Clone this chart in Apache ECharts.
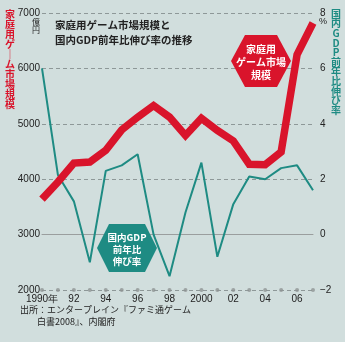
<!DOCTYPE html>
<html>
<head>
<meta charset="utf-8">
<script src="https://cdn.jsdelivr.net/npm/echarts@6/dist/echarts.min.js"></script>
<style>
html,body{margin:0;padding:0;background:#d1dedd;}
#c{width:345px;height:342px;}
</style>
</head>
<body>
<div id="c"></div>
<script>
// ---- data ----
const years = ['1990','1991','1992','1993','1994','1995','1996','1997','1998','1999','2000','2001','2002','2003','2004','2005','2006','2007'];
const xTickLabels = {'1990':'1990年','1992':'92','1994':'94','1996':'96','1998':'98','2000':'2000','2002':'02','2004':'04','2006':'06'};
const gameMarket = [3640,3950,4290,4310,4520,4890,5120,5330,5120,4790,5100,4880,4690,4270,4260,4490,6250,6820]; // 億円
const gdpGrowth = [6.0,2.15,1.2,-1.0,2.3,2.5,2.9,0.0,-1.5,0.8,2.6,-0.8,1.1,2.1,2.0,2.4,2.5,1.6]; // %
const leftTicks = [2000,3000,4000,5000,6000,7000];
const rightTicks = [-2,0,2,4,6,8];

const FONT = '"Noto Sans CJK JP", "Noto Sans", sans-serif';
const NUMFONT = '"Liberation Sans", Arial, sans-serif';
const RED = '#d9142b';
const TEAL = '#1e8b83';
const TXT = '#222';
const Y_MIN = leftTicks[0];

function hexPts(cx, cy, w, h, k){
  return [[cx-w,cy],[cx-w+k,cy-h],[cx+w-k,cy-h],[cx+w,cy],[cx+w-k,cy+h],[cx-w+k,cy+h]];
}
function vertTexts(chars, x, y0, step, color){
  return chars.map((ch, i) => ({type:'text', x: x, y: y0 + i*step, z: 10,
    style:{text: ch, font:'bold 10px ' + FONT, fill: color, align:'center', verticalAlign:'middle'}}));
}

const chart = echarts.init(document.getElementById('c'));
chart.setOption({
  backgroundColor: '#d1dedd',
  animation: false,
  textStyle: {fontFamily: FONT},
  grid: {left: 42, right: 32, top: 13, bottom: 52},
  xAxis: {
    type: 'category', data: years, boundaryGap: false,
    axisLine: {show: true, lineStyle: {color: '#9a9e9e', width: 1}},
    axisTick: {show: false},
    axisLabel: {interval: 0, margin: 4, color: TXT, fontSize: 10, fontFamily: NUMFONT,
      formatter: v => xTickLabels[v] || ''},
    splitLine: {show: false}
  },
  yAxis: [{
    type: 'value', min: Y_MIN, max: 7000, interval: 1000,
    axisLine: {show: false}, axisTick: {show: false},
    axisLabel: {margin: 2, color: TXT, fontSize: 10, fontFamily: NUMFONT,
      formatter: v => leftTicks.includes(v) ? String(v) : ''},
    splitLine: {show: true, lineStyle: {color: '#8e9898', type: [4,3], width: 1}}
  },{
    type: 'value', min: -2, max: 8, interval: 2,
    axisLine: {show: false}, axisTick: {show: false},
    axisLabel: {margin: 7, color: TXT, fontSize: 10, fontFamily: NUMFONT,
      formatter: v => rightTicks.includes(v) ? (v < 0 ? '−' + Math.abs(v) : String(v)) : ''},
    splitLine: {show: false}
  }],
  series: [{
    name: 'axisDots', type: 'scatter', yAxisIndex: 0, silent: true,
    data: years.map(y => [y, Y_MIN]), symbolSize: 4,
    itemStyle: {color: '#8f9494'}, z: 2
  },{
    name: '国内GDP前年比伸び率', type: 'line', yAxisIndex: 1, data: gdpGrowth,
    symbol: 'none', lineStyle: {color: TEAL, width: 2}, z: 3
  },{
    name: '家庭用ゲーム市場規模', type: 'line', yAxisIndex: 0, data: gameMarket,
    symbol: 'none', lineStyle: {color: RED, width: 7.5, join: 'miter'}, z: 4
  }],
  graphic: [
    // title
    {type:'text', left: 55, top: 20, z: 10, style:{text:'家庭用ゲーム市場規模と', font:'bold 10.5px ' + FONT, fill: TXT}},
    {type:'text', left: 55, top: 35, z: 10, style:{text:'国内GDP前年比伸び率の推移', font:'bold 10.5px ' + FONT, fill: TXT}},
    // units
    {type:'text', x: 36, y: 22, z: 10, style:{text:'億', font:'8px ' + FONT, fill: TXT, align:'center', verticalAlign:'middle'}},
    {type:'text', x: 36, y: 30, z: 10, style:{text:'円', font:'8px ' + FONT, fill: TXT, align:'center', verticalAlign:'middle'}},
    {type:'text', x: 323, y: 22, z: 10, style:{text:'%', font:'9px ' + NUMFONT, fill: TXT, align:'center', verticalAlign:'middle'}},
    // red hexagon label
    {type:'polygon', z: 10, shape:{points: hexPts(261, 61, 30, 26, 14)}, style:{fill: RED}},
    {type:'text', x: 261, y: 62, z: 11, style:{text:'家庭用\nゲーム市場\n規模', font:'bold 10px ' + FONT, lineHeight: 13, fill:'#fff', align:'center', verticalAlign:'middle'}},
    // teal hexagon label
    {type:'polygon', z: 10, shape:{points: hexPts(127, 248, 30, 24, 12)}, style:{fill: TEAL}},
    {type:'text', x: 127, y: 249, z: 11, style:{text:'国内GDP\n前年比\n伸び率', font:'bold 9.5px ' + FONT, lineHeight: 12, fill:'#fff', align:'center', verticalAlign:'middle'}},
    // source
    {type:'text', left: 20, top: 305, z: 10, style:{text:'出所：エンタープレイン『ファミ通ゲーム', font:'9px ' + FONT, fill: TXT}},
    {type:'text', left: 37, top: 317, z: 10, style:{text:'白書2008』、内閣府', font:'9px ' + FONT, fill: TXT}}
  ]
  .concat(vertTexts(['家','庭','用','ゲ','｜','ム','市','場','規','模'], 10, 14, 10, RED))
  .concat(vertTexts(['国','内','G','D','P','前','年','比','伸','び','率'], 336, 14, 9.6, TEAL))
});
</script>
</body>
</html>
